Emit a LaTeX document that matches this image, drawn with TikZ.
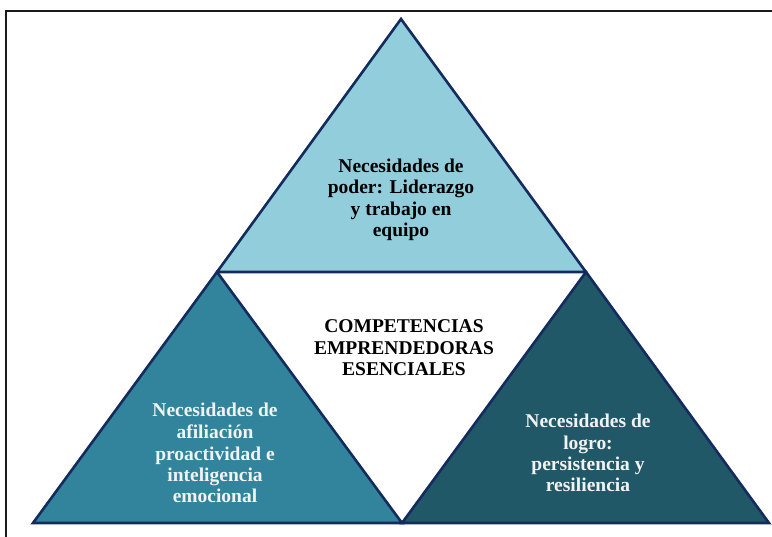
\documentclass[tikz,border=0pt]{standalone}
\usepackage{fontspec}
\setmainfont{Liberation Serif}
\definecolor{topfill}{HTML}{92CDDC}
\definecolor{leftfill}{HTML}{31849B}
\definecolor{rightfill}{HTML}{215868}
\definecolor{edge}{HTML}{142B5E}
\definecolor{framecol}{HTML}{1A1A1A}
\definecolor{lighttext}{HTML}{F2F2F2}
\tikzset{
  tri/.style={draw=edge, line width=2.6pt, line join=miter},
  lbl/.style={align=center, inner sep=0pt, anchor=base,
    font=\fontsize{19.5}{21.5}\selectfont\bfseries},
}
\begin{document}
\begin{tikzpicture}[x=1pt,y=-1pt]
\useasboundingbox (0,0) rectangle (772,537);
\fill[white] (0,0) rectangle (772,537);
% frame
\draw[framecol, line width=2pt] (6,545) -- (6,11) -- (780,11);
% corners
\coordinate (A) at (401,19);
\coordinate (B) at (217,272);
\coordinate (C) at (586,272);
\coordinate (D) at (33,523);
\coordinate (E) at (402,523);
\coordinate (F) at (769,523);
% triangles
\filldraw[tri, fill=topfill] (A) -- (C) -- (B) -- cycle;
\filldraw[tri, fill=leftfill] (B) -- (E) -- (D) -- cycle;
\filldraw[tri, fill=rightfill] (C) -- (F) -- (E) -- cycle;
% labels (anchor = baseline of last line)
\node[lbl] (ttop) at (401,237) {Necesidades de\\poder: Liderazgo\\y trabajo en\\equipo};
\node[lbl] (tmid) at (404,376) {COMPETENCIAS\\EMPRENDEDORAS\\ESENCIALES};
\node[lbl, text=lighttext] (tleft) at (215,503) {Necesidades de\\afiliación\\proactividad e\\inteligencia\\emocional};
\node[lbl, text=lighttext] (tright) at (588,492) {Necesidades de\\logro:\\persistencia y\\resiliencia};
\end{tikzpicture}
\end{document}
